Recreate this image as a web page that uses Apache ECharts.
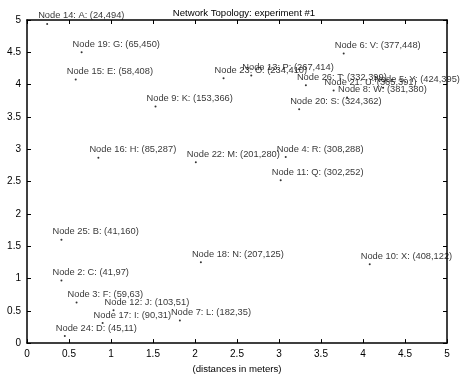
<!DOCTYPE html>
<html>
<head>
<meta charset="utf-8">
<script src="https://cdn.jsdelivr.net/npm/echarts@6/dist/echarts.min.js"></script>
<style>
  html, body { margin: 0; padding: 0; background: #fff; }
  #chart { width: 461px; height: 379px; }
</style>
</head>
<body>
<div id="chart"></div>
<script>
// node ids, letters and positions (in cm, as printed in the labels)
const nodeIds = [14, 19, 15, 9, 23, 13, 6, 26, 21, 8, 5, 20, 16, 22, 4, 11, 25, 18, 10, 2, 3, 12, 17, 7, 24]
const nodeLetters = ['A', 'G', 'E', 'K', 'O', 'P', 'V', 'T', 'U', 'W', 'Y', 'S', 'H', 'M', 'R', 'Q', 'B', 'N', 'X', 'C', 'F', 'J', 'I', 'L', 'D']
const nodeX = [24, 65, 58, 153, 234, 267, 377, 332, 365, 381, 424, 324, 85, 201, 308, 302, 41, 207, 408, 41, 59, 103, 90, 182, 45]
const nodeY = [494, 450, 408, 366, 410, 414, 448, 399, 391, 380, 395, 362, 287, 280, 288, 252, 160, 125, 122, 97, 63, 51, 31, 35, 11]
const axisTicks = [0, 0.5, 1, 1.5, 2, 2.5, 3, 3.5, 4, 4.5, 5]

const font = 'Liberation Sans, Arial, Helvetica, sans-serif'

const points = nodeX.map((x, i) => ({
  value: [x / 100, nodeY[i] / 100],
  name: `Node ${nodeIds[i]}: ${nodeLetters[i]}: (${x},${nodeY[i]})`,
}))

const chart = echarts.init(document.getElementById('chart'))

const baseAxis = {
  type: 'value',
  min: axisTicks[0],
  max: axisTicks[axisTicks.length - 1],
  interval: 0.5,
  splitLine: { show: false },
  axisLine: { show: true, onZero: false, lineStyle: { color: '#000', width: 1.5 } },
  axisTick: { show: true, inside: true, length: 4, lineStyle: { color: '#000', width: 1 } },
}

chart.setOption({
  animation: false,
  title: {
    text: 'Network Topology: experiment #1',
    left: 239,
    top: 3,
    textAlign: 'center',
    textStyle: { fontFamily: font, fontSize: 9.6, fontWeight: 'normal', color: '#000' },
  },
  grid: { left: 27, right: 14, top: 20, bottom: 29 },
  xAxis: [
    {
      ...baseAxis,
      position: 'bottom',
      name: '(distances in meters)',
      nameLocation: 'middle',
      nameGap: 20,
      nameTextStyle: { fontFamily: font, fontSize: 9.6, color: '#000' },
      axisLabel: {
        fontFamily: font, fontSize: 10, color: '#000', margin: 6,
        formatter: (v) => String(v),
      },
    },
    { ...baseAxis, position: 'top', axisLabel: { show: false } },
  ],
  yAxis: [
    {
      ...baseAxis,
      position: 'left',
      axisLabel: {
        fontFamily: font, fontSize: 10, color: '#000', margin: 6,
        formatter: (v) => String(v),
      },
    },
    { ...baseAxis, position: 'right', axisLabel: { show: false } },
  ],
  series: [
    {
      type: 'scatter',
      data: points,
      symbol: 'circle',
      symbolSize: 2,
      itemStyle: { color: '#000' },
      label: {
        show: true,
        position: [-8, -7],
        align: 'left',
        verticalAlign: 'middle',
        formatter: (p) => p.name,
        fontFamily: font,
        fontSize: 9.3,
        color: '#000',
      },
      labelLayout: { hideOverlap: false },
    },
  ],
})
</script>
</body>
</html>
